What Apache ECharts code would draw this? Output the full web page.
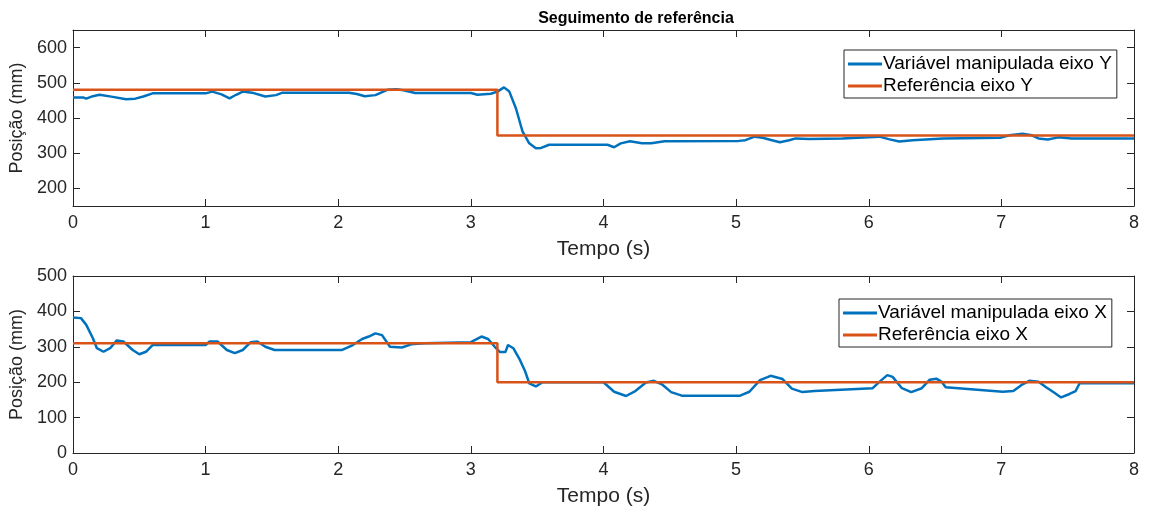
<!DOCTYPE html>
<html>
<head>
<meta charset="utf-8">
<script src="https://cdn.jsdelivr.net/npm/echarts@6/dist/echarts.min.js"></script>
<style>
html,body{margin:0;padding:0;background:#fff;}
#chart{width:1149px;height:510px;}
</style>
</head>
<body>
<div id="chart"></div>
<script>
// ---- dados ----
// eixo Y (gráfico de cima)
var tY = [0,0.08,0.1,0.15,0.2,0.3,0.4,0.47,0.53,0.6,1.0,1.05,1.12,1.18,1.23,1.28,1.35,1.45,1.53,1.58,2.08,2.14,2.2,2.28,2.37,2.44,2.5,2.58,3.0,3.05,3.15,3.2,3.25,3.29,3.34,3.39,3.44,3.49,3.53,3.59,4.03,4.08,4.13,4.2,4.29,4.36,4.46,5.02,5.07,5.14,5.2,5.27,5.33,5.4,5.45,5.55,5.8,6.0,6.08,6.15,6.23,6.33,6.56,6.99,7.06,7.16,7.23,7.28,7.35,7.43,7.53,8.0];
var yManip = [458,458,455,462,466,460,453,455,461,470,470,475,467,456,466,475,472,461,465,472,472,468,462,465,480,482,478,471,471,466,469,475,487,475,427,361,328,314,315,324,324,317,328,334,328,328,334,335,337,347,344,337,331,337,342,340,342,345,347,340,333,337,342,344,351,355,351,342,339,345,342,342];
var tRefY = [0,3.2,3.2,8];
var refY = [480,480,350,350];
var yTicksTop = [200,300,400,500,600];

// eixo X (gráfico de baixo)
var tX = [0,0.06,0.1,0.15,0.18,0.23,0.28,0.33,0.38,0.45,0.5,0.55,0.6,1.0,1.03,1.09,1.16,1.22,1.28,1.34,1.39,1.45,1.52,2.03,2.11,2.18,2.23,2.28,2.33,2.39,2.48,2.55,2.65,3.0,3.08,3.13,3.18,3.22,3.26,3.28,3.32,3.37,3.41,3.44,3.49,3.54,4.0,4.08,4.17,4.24,4.32,4.38,4.44,4.51,4.59,5.03,5.1,5.18,5.26,5.35,5.42,5.5,5.59,6.03,6.08,6.14,6.18,6.25,6.32,6.4,6.46,6.51,6.55,6.58,7.01,7.09,7.16,7.21,7.28,7.34,7.4,7.45,7.51,7.56,7.59,8.0];
var xManip = [383,381,362,324,296,286,296,318,315,291,279,286,305,305,315,315,291,282,291,313,315,300,291,291,305,322,329,338,333,300,298,307,310,313,329,322,300,285,285,305,296,263,230,197,188,200,200,173,161,175,199,204,194,172,162,162,173,206,218,209,182,172,175,183,201,220,215,183,172,183,207,210,201,186,173,175,194,204,201,185,170,157,166,175,197,197];
var tRefX = [0,3.2,3.2,8];
var refX = [310,310,200,200];
var yTicksBottom = [0,100,200,300,400,500];

function pares(t, v){
    var out = [];
    for(var i = 0; i < t.length; i++){ out.push([t[i], v[i]]); }
    return out;
}

var azul = '#0072BD', laranja = '#D95319', cinza = '#262626';
var fonte = 'Liberation Sans, Arial, sans-serif';

// eixo x: um embaixo (com rótulos) e outro em cima (só marcas)
function eixoX(grid, pos, comRotulo){
    return {
        type:'value', gridIndex:grid, position:pos, min:0, max:8, interval:1,
        name: comRotulo ? 'Tempo (s)' : '', nameLocation:'middle', nameGap:33,
        nameTextStyle:{color:cinza, fontSize:21, fontFamily:fonte},
        axisLine:{show:true, onZero:false, lineStyle:{color:cinza, width:1}},
        axisTick:{show:true, inside:true, length:7, lineStyle:{color:cinza}},
        axisLabel:{show:comRotulo, color:cinza, fontSize:18, fontFamily:fonte, margin:8},
        splitLine:{show:false}
    };
}
function eixoY(grid, pos, mn, mx, ticks, comRotulo){
    return {
        type:'value', gridIndex:grid, position:pos, min:mn, max:mx,
        name: comRotulo ? 'Posição (mm)' : '', nameLocation:'middle', nameGap:37,
        nameTextStyle:{color:cinza, fontSize:18, fontFamily:fonte},
        axisLine:{show:true, onZero:false, lineStyle:{color:cinza, width:1}},
        axisTick:{show:true, inside:true, length:7, lineStyle:{color:cinza}, customValues:ticks},
        axisLabel:{show:comRotulo, color:cinza, fontSize:18, fontFamily:fonte, margin:6, customValues:ticks},
        splitLine:{show:false}
    };
}
function legenda(left, top, nomes){
    return {
        data:nomes, orient:'vertical', left:left, top:top, icon:'rect',
        backgroundColor:'#fff', borderColor:cinza, borderWidth:1,
        padding:[3,5,1,4], itemWidth:34, itemHeight:3, itemGap:0,
        textStyle:{color:'#000', fontSize:19, lineHeight:22, fontFamily:fonte, padding:[0,0,0,-4]}
    };
}
function serie(nome, xi, yi, dados, cor){
    return {
        name:nome, type:'line', xAxisIndex:xi, yAxisIndex:yi, data:dados,
        symbol:'none', lineStyle:{color:cor, width:2.5}, itemStyle:{color:cor},
        animation:false
    };
}

var chart = echarts.init(document.getElementById('chart'));
var option = {
    backgroundColor:'#fff',
    animation:false,
    title:{
        text:'Seguimento de referência', left:631, top:6, textAlign:'center',
        textStyle:{color:'#000', fontSize:16, fontWeight:'bold', fontFamily:fonte}
    },
    grid:[
        {left:73, top:30, width:1061, height:176},
        {left:73, top:276, width:1061, height:177}
    ],
    xAxis:[eixoX(0,'bottom',true), eixoX(0,'top',false), eixoX(1,'bottom',true), eixoX(1,'top',false)],
    yAxis:[eixoY(0,'left',150,650,yTicksTop,true), eixoY(0,'right',150,650,yTicksTop,false),
           eixoY(1,'left',0,500,yTicksBottom,true), eixoY(1,'right',0,500,yTicksBottom,false)],
    legend:[
        legenda(844, 50, ['Variável manipulada eixo Y','Referência eixo Y']),
        legenda(839, 299, ['Variável manipulada eixo X','Referência eixo X'])
    ],
    series:[
        serie('Variável manipulada eixo Y', 0, 0, pares(tY, yManip), azul),
        serie('Referência eixo Y', 0, 0, pares(tRefY, refY), laranja),
        serie('Variável manipulada eixo X', 2, 2, pares(tX, xManip), azul),
        serie('Referência eixo X', 2, 2, pares(tRefX, refX), laranja)
    ]
};
chart.setOption(option);
</script>
</body>
</html>
